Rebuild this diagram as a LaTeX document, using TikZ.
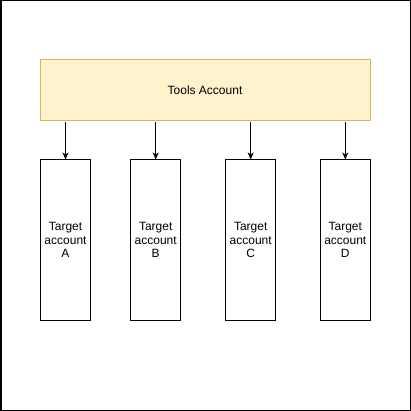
\documentclass[tikz,border=0pt]{standalone}
\usepackage{fontspec}
\setmainfont{Liberation Sans}
\usetikzlibrary{arrows.meta}
\definecolor{toolfill}{HTML}{FFF2CC}
\definecolor{tooldraw}{HTML}{D6B656}
\begin{document}
\begin{tikzpicture}[x=1pt,y=-1pt,
  toolbox/.style={draw=tooldraw,fill=toolfill,line width=1pt,minimum width=330pt,minimum height=60.5pt,inner sep=0pt,font=\fontsize{12}{13.5}\selectfont},
  targetbox/.style={draw=black,line width=1pt,minimum width=50pt,minimum height=160pt,inner sep=0pt,align=center,font=\fontsize{12}{13.5}\selectfont},
  conn/.style={draw=black,line width=1pt,-{Stealth[length=7pt,width=6pt,inset=2pt]}}]
\useasboundingbox (0,0) rectangle (411,411);
\draw[line width=1.5pt] (0.75,0.75) rectangle (410.25,410.25);
\node[toolbox] (tools) at (205,90.25) {Tools Account};
\node[targetbox] (A) at (65.5,240) {Target\\account\\A};
\node[targetbox] (B) at (155.7,240) {Target\\account\\B};
\node[targetbox] (C) at (250.7,240) {Target\\account\\C};
\node[targetbox] (D) at (345.3,240) {Target\\account\\D};
\foreach \t in {A,B,C,D}{
  \draw[conn,shorten <=1.5pt] (tools.south -| \t.north) -- (\t.north);
}
\end{tikzpicture}
\end{document}
